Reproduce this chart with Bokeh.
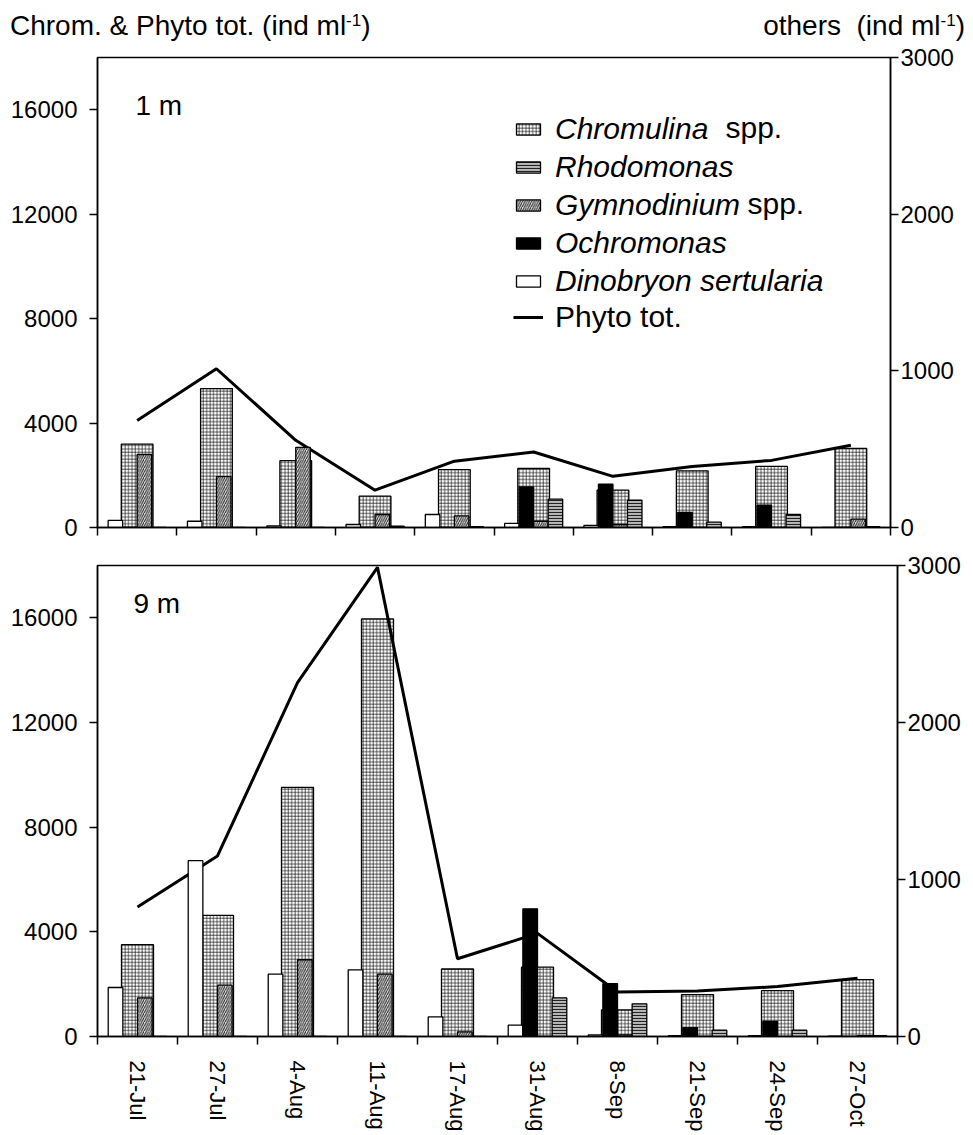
import numpy as np
from bokeh.plotting import figure
from bokeh.models import (Range1d, LinearAxis, FixedTicker, Label, Legend, LegendItem,
                          ColumnDataSource, CustomJSTickFormatter, Div)
from bokeh.layouts import column
from bokeh.transform import dodge
from bokeh.embed import file_html
from bokeh.resources import INLINE

# ---------------- data ----------------
dates = ["21-Jul", "27-Jul", "4-Aug", "11-Aug", "17-Aug",
         "31-Aug", "8-Sep", "21-Sep", "24-Sep", "27-Oct"]

# 1 m  (Chromulina & Phyto tot. on left axis, others on right axis)
chrom_1m = [3190, 5320, 2560, 1200, 2220, 2260, 1430, 2170, 2340, 3030]
phyto_1m = [4100, 6080, 3340, 1430, 2540, 2890, 1960, 2340, 2570, 3150]
dino_1m = [45, 40, 10, 19, 83, 26, 13, 6, 6, 0]
ochro_1m = [0, 0, 0, 0, 0, 259, 276, 96, 142, 0]
gymno_1m = [466, 325, 512, 83, 74, 40, 19, 0, 0, 53]
rhodo_1m = [0, 0, 0, 8, 6, 181, 174, 34, 83, 5]

# 9 m
chrom_9m = [3510, 4630, 9520, 15960, 2580, 2650, 1020, 1600, 1750, 2170]
phyto_9m = [4950, 6900, 13520, 17930, 2970, 3940, 1700, 1740, 1910, 2230]
dino_9m = [312, 1120, 397, 425, 125, 72, 10, 5, 5, 3]
ochro_9m = [0, 0, 0, 0, 0, 813, 336, 57, 96, 0]
gymno_9m = [246, 327, 489, 397, 30, 0, 10, 0, 0, 5]
rhodo_9m = [0, 0, 0, 0, 0, 246, 208, 40, 40, 5]

left_ticks = [0, 4000, 8000, 12000, 16000]
right_ticks = [0, 1000, 2000, 3000]

left_title = "Chrom. &amp; Phyto tot. (ind ml"
right_title = "others&nbsp; (ind ml"
title_sup = "-1"

FONT = "Liberation Sans"
TICK_FS = "24px"
W2 = 0.183   # width of the "others" bars
W1 = 0.40    # width of Chromulina bars
PAGE_W = 965


def build(depth, chrom, phyto, dino, ochro, gymno, rhodo,
          frame_w, frame_h, left_b, right_b, top_b, bottom_b, show_x, lab_x, lab_y):
    n = len(dates)
    p = figure(frame_width=frame_w, frame_height=frame_h,
               x_range=Range1d(0, n), y_range=Range1d(0, 18000),
               output_backend="svg", toolbar_location=None,
               min_border_left=left_b, min_border_right=right_b,
               min_border_top=top_b, min_border_bottom=bottom_b)
    p.extra_y_ranges = {"others": Range1d(0, 3000)}
    p.xgrid.visible = False
    p.ygrid.visible = False
    p.outline_line_color = "black"
    p.outline_line_width = 1.5
    p.background_fill_color = "white"
    p.border_fill_color = "white"

    src = ColumnDataSource(dict(x=np.arange(n) + 0.5, chrom=chrom, phyto=phyto,
                                dino=dino, ochro=ochro, gymno=gymno, rhodo=rhodo))

    r_chrom = p.vbar(x="x", top="chrom", width=W1, source=src,
                     fill_color="white", line_color="black", line_width=1.3,
                     hatch_pattern="+", hatch_scale=3.4, hatch_color="#111111",
                     hatch_weight=0.7)
    r_line = p.line("x", "phyto", source=src, line_color="black", line_width=3)

    common = dict(width=W2, source=src, y_range_name="others",
                  line_color="black", line_width=1.3)
    r_dino = p.vbar(x=dodge("x", -1.5 * W2), top="dino", fill_color="white", **common)
    r_ochro = p.vbar(x=dodge("x", -0.5 * W2), top="ochro", fill_color="black", **common)
    r_gymno = p.vbar(x=dodge("x", 0.5 * W2), top="gymno", fill_color="#e2e2e2",
                     hatch_pattern="/", hatch_scale=4.5, hatch_color="#222222",
                     hatch_weight=1.0, **common)
    r_rhodo = p.vbar(x=dodge("x", 1.5 * W2), top="rhodo", fill_color="#b8b8b8",
                     hatch_pattern="-", hatch_scale=3, hatch_color="#222222",
                     hatch_weight=1.1, **common)

    # x axis: ticks at category boundaries, labels at centres
    xa = p.xaxis[0]
    if show_x:
        xa.ticker = FixedTicker(ticks=list(np.arange(n) + 0.5), minor_ticks=list(range(n + 1)))
        xa.formatter = CustomJSTickFormatter(args=dict(labels=dates),
                                             code="return labels[Math.floor(tick)] || '';")
        xa.major_label_orientation = "vertical"
        xa.major_label_text_font = FONT
        xa.major_label_text_font_size = "22px"
        xa.major_label_text_color = "black"
        xa.major_label_standoff = 16
    else:
        xa.ticker = FixedTicker(ticks=[], minor_ticks=list(range(n + 1)))
        xa.major_label_standoff = 0
    xa.major_tick_out = 0
    xa.major_tick_in = 0
    xa.minor_tick_out = 8
    xa.minor_tick_in = 0
    xa.minor_tick_line_color = "black"
    xa.minor_tick_line_width = 1.5
    xa.axis_line_color = "black"
    xa.axis_line_width = 1.5

    ya = p.yaxis[0]
    ya.ticker = FixedTicker(ticks=left_ticks)
    ya.major_tick_out = 8
    ya.major_tick_in = 0
    ya.minor_tick_line_color = None
    ya.major_tick_line_width = 1.5
    ya.axis_line_width = 1.5
    ya.major_label_text_font = FONT
    ya.major_label_text_font_size = TICK_FS
    ya.major_label_text_color = "black"
    ya.major_label_standoff = 12

    ra = LinearAxis(y_range_name="others", ticker=FixedTicker(ticks=right_ticks))
    ra.major_tick_out = 8
    ra.major_tick_in = 0
    ra.minor_tick_line_color = None
    ra.major_tick_line_width = 1.5
    ra.axis_line_width = 1.5
    ra.major_label_text_font = FONT
    ra.major_label_text_font_size = TICK_FS
    ra.major_label_text_color = "black"
    ra.major_label_standoff = 2
    p.add_layout(ra, "right")

    p.add_layout(Label(x=lab_x, y=lab_y, x_units="screen", y_units="screen", text=depth,
                       text_font=FONT, text_font_size="28px", text_baseline="middle",
                       text_color="black"))
    return p, dict(chrom=r_chrom, line=r_line, dino=r_dino, ochro=r_ochro,
                   gymno=r_gymno, rhodo=r_rhodo)


# ---------------- header with the two axis titles (real HTML text) ----------------
HH = 45
sup = f'<sup style="font-size:17px;line-height:0;vertical-align:0.55em;">{title_sup}</sup>'
span_style = ("position:absolute;top:12px;white-space:nowrap;line-height:28px;"
              "font-family:'Liberation Sans';font-size:28px;color:black;")
hdr_html = (f'<div style="position:relative;width:{PAGE_W}px;height:{HH}px;">'
            f'<span style="{span_style}left:10px;">{left_title}{sup})</span>'
            f'<span style="{span_style}right:0px;">{right_title}{sup})</span>'
            f'</div>')
hdr = Div(text=hdr_html, width=PAGE_W, height=HH, margin=0)

FH1 = 470
p1, r1 = build("1 m", chrom_1m, phyto_1m, dino_1m, ochro_1m, gymno_1m, rhodo_1m,
               frame_w=793, frame_h=FH1, left_b=97, right_b=75, top_b=12, bottom_b=18,
               show_x=False, lab_x=38, lab_y=FH1 - 48)
FH2 = 471
p2, r2 = build("9 m", chrom_9m, phyto_9m, dino_9m, ochro_9m, gymno_9m, rhodo_9m,
               frame_w=800, frame_h=FH2, left_b=96, right_b=69, top_b=20, bottom_b=99,
               show_x=True, lab_x=36, lab_y=FH2 - 38)

# ---------------- legend (top panel) ----------------
leg_common = dict(glyph_width=30, glyph_height=14, label_standoff=12, spacing=4,
                  padding=0, margin=0, label_text_font=FONT, label_text_font_size="30px",
                  label_text_color="black", border_line_alpha=0, background_fill_alpha=0)
leg1 = Legend(items=[LegendItem(label="Chromulina", renderers=[r1["chrom"]]),
                     LegendItem(label="Rhodomonas", renderers=[r1["rhodo"]]),
                     LegendItem(label="Gymnodinium", renderers=[r1["gymno"]]),
                     LegendItem(label="Ochromonas", renderers=[r1["ochro"]]),
                     LegendItem(label="Dinobryon sertularia", renderers=[r1["dino"]])],
              location=(416, 229), label_text_font_style="italic", **leg_common)
leg2 = Legend(items=[LegendItem(label="Phyto tot.", renderers=[r1["line"]])],
              location=(416, 193), label_text_font_style="normal", **leg_common)
p1.add_layout(leg1)
p1.add_layout(leg2)
for txt, xx, yy in [("spp.", 628, FH1 - 70), ("spp.", 650, FH1 - 146)]:
    p1.add_layout(Label(x=xx, y=yy, x_units="screen", y_units="screen", text=txt,
                        text_font=FONT, text_font_size="30px", text_baseline="middle",
                        text_color="black"))

layout = column(hdr, p1, p2, spacing=0)
open("out.html", "w").write(file_html(layout, INLINE))
